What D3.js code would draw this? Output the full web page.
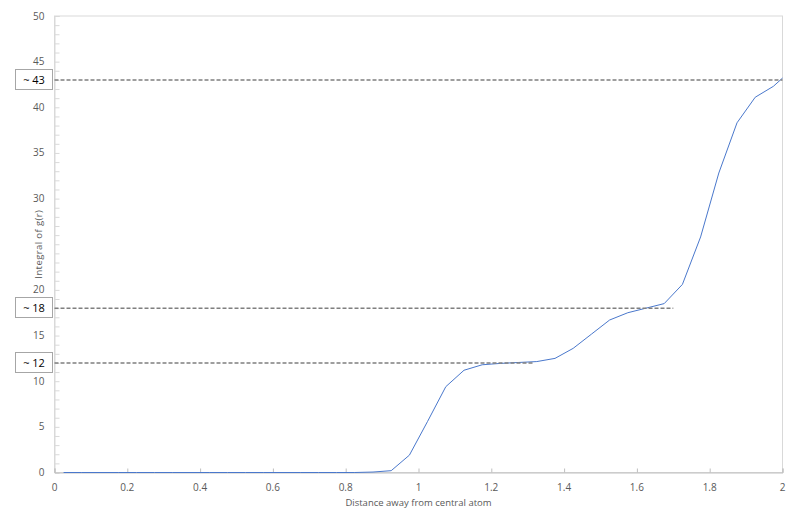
<!DOCTYPE html>
<html><head><meta charset="utf-8">
<script src="https://cdn.jsdelivr.net/npm/d3@7"></script>
<style>body{margin:0;background:#fff;} svg{display:block;}</style>
</head><body>
<svg id="c" width="800" height="525"></svg>
<script>
const distance = [0.025,0.075,0.125,0.175,0.225,0.275,0.325,0.375,0.425,0.475,0.525,0.575,0.625,0.675,0.725,0.775,0.825,0.875,0.925,0.975,1.025,1.075,1.125,1.175,1.225,1.275,1.325,1.375,1.425,1.475,1.525,1.575,1.625,1.675,1.725,1.775,1.825,1.875,1.925,1.975,2.0];
const integral = [0,0,0,0,0,0,0,0,0,0,0,0,0,0,0,0,0,0.05,0.2,1.9,5.6,9.4,11.2,11.8,11.95,12.05,12.15,12.5,13.6,15.15,16.7,17.5,18.0,18.5,20.6,25.8,32.8,38.3,41.1,42.3,43.2];
const xTicks = [0,0.2,0.4,0.6,0.8,1,1.2,1.4,1.6,1.8,2];
const yTickLabels = [0,5,10,15,20,30,35,40,45,50]; // "25" is hidden under the axis title
const markLabels = ["~ 43","~ 18","~ 12"];
const markValues = [43,18,12];
const markEnds = [2.0,1.7,1.315];

const svg = d3.select("#c");
const x = d3.scaleLinear().domain([0,2]).range([54.5,782.5]);
const y = d3.scaleLinear().domain([0,50]).range([472.5,16]);
const grid = "#d9d9d9", txt = "#595959", font = "'Open Sans', 'Noto Sans', sans-serif";

// plot border
svg.append("rect").attr("x",x(0)).attr("y",y(50)).attr("width",x(2)-x(0)).attr("height",y(0)-y(50))
  .attr("fill","none").attr("stroke",grid).attr("stroke-width",1);

// y axis with inward minor ticks
const yAxis = svg.append("g").attr("transform",`translate(${x(0)},0)`)
  .call(d3.axisRight(y).tickValues(d3.range(0,51,1)).tickSize(5).tickFormat(""));
yAxis.select(".domain").attr("stroke",grid);
yAxis.selectAll(".tick line").attr("stroke",grid);
svg.append("g").selectAll("text").data(yTickLabels).join("text")
  .attr("x",x(0)-10).attr("y",d=>y(d)).attr("dy","0.35em").attr("text-anchor","end")
  .attr("font-family",font).attr("font-size",10).attr("fill",txt).text(d=>d);

// x axis with inward ticks
const xAxis = svg.append("g").attr("transform",`translate(0,${y(0)})`)
  .call(d3.axisTop(x).tickValues(xTicks).tickSize(4).tickFormat(""));
xAxis.select(".domain").attr("stroke","#bfbfbf");
xAxis.selectAll(".tick line").attr("stroke","#bfbfbf");
svg.append("g").selectAll("text").data(xTicks).join("text")
  .attr("x",d=>x(d)).attr("y",y(0)+18).attr("text-anchor","middle")
  .attr("font-family",font).attr("font-size",10).attr("fill",txt).text(d=>d);

// axis titles
svg.append("text").attr("x",(x(0)+x(2))/2).attr("y",506).attr("text-anchor","middle")
  .attr("font-family",font).attr("font-size",9.5).attr("fill",txt).text("Distance away from central atom");
svg.append("text").attr("transform",`translate(42,${(y(0)+y(50))/2}) rotate(-90)`).attr("text-anchor","middle")
  .attr("font-family",font).attr("font-size",9.5).attr("fill",txt).attr("letter-spacing",0.4).text("Integral of g(r)");

// data line
const pts = distance.map((d,i)=>[d,integral[i]]);
svg.append("path").datum(pts)
  .attr("d",d3.line().x(d=>x(d[0])).y(d=>y(d[1])))
  .attr("fill","none").attr("stroke","#4a78cc").attr("stroke-width",1);

// dashed reference lines
svg.append("g").selectAll("line").data(markValues).join("line")
  .attr("x1",x(0)).attr("x2",(d,i)=>x(markEnds[i]))
  .attr("y1",d=>y(d)).attr("y2",d=>y(d))
  .attr("stroke","#7f7f7f").attr("stroke-width",1.5).attr("stroke-dasharray","4,2");

// label boxes
const boxes = svg.append("g").selectAll("g").data(markValues).join("g")
  .attr("transform",d=>`translate(15.5,${Math.round(y(d))-10.5})`);
boxes.append("rect").attr("width",37).attr("height",20).attr("fill","#fff").attr("stroke","#a6a6a6");
boxes.append("text").attr("x",18.5).attr("y",14.5).attr("text-anchor","middle")
  .attr("font-family",font).attr("font-size",11).attr("fill","#000")
  .text((d,i)=>markLabels[i]);
</script>
</body></html>
